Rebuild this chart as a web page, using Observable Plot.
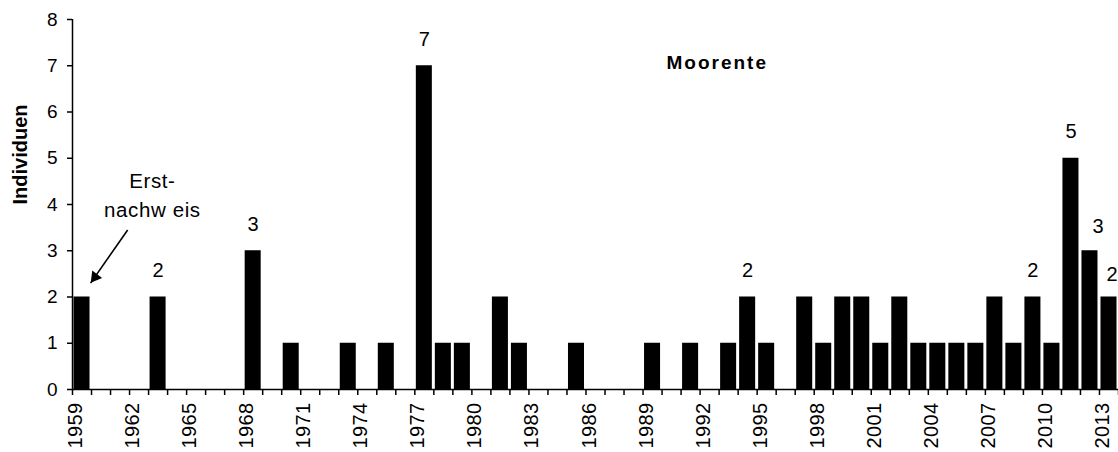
<!DOCTYPE html>
<html><head><meta charset="utf-8">
<script src="https://cdn.jsdelivr.net/npm/d3@7"></script>
<script src="https://cdn.jsdelivr.net/npm/@observablehq/plot@0.6"></script>
<style>
body{margin:0;background:#fff}
#chart svg{font-family:"Liberation Sans",Arial,sans-serif;color:#000;background:#fff}
g[aria-description="title"] text{letter-spacing:2px}
g[aria-description="note"] text{letter-spacing:0.6px}
g[aria-description="years"] text{letter-spacing:0.4px}
</style>
</head><body><div id="chart"></div>
<script>
const years = [1959,1960,1961,1962,1963,1964,1965,1966,1967,1968,1969,1970,1971,1972,1973,1974,1975,1976,1977,1978,1979,1980,1981,1982,1983,1984,1985,1986,1987,1988,1989,1990,1991,1992,1993,1994,1995,1996,1997,1998,1999,2000,2001,2002,2003,2004,2005,2006,2007,2008,2009,2010,2011,2012,2013];
const counts = [2,0,0,0,2,0,0,0,0,3,0,1,0,0,1,0,1,0,7,1,1,0,2,1,0,0,1,0,0,0,1,0,1,0,1,2,1,0,2,1,2,2,1,2,1,1,1,1,2,1,2,1,5,3,2];
const tickLabelYears = [1959,1962,1965,1968,1971,1974,1977,1980,1983,1986,1989,1992,1995,1998,2001,2004,2007,2010,2013];
const yTicks = [0,1,2,3,4,5,6,7,8];
const labeledYears = [1963,1968,1977,1994,2009,2011,2012,2013];
const title = "Moorente";
const yLabel = "Individuen";
const note = "Erst-\nnachw eis";

const data = years.map((year, i) => ({year, count: counts[i]}));
const labels = data.filter(d => labeledYears.includes(d.year));
const boundaries = years.concat([years[years.length - 1] + 1]);
const arrowSeg = [{x1: 1961.9, y1: 3.45, x2: 1959.95, y2: 2.3}];

const plot = Plot.plot({
  width: 1118,
  height: 452,
  marginLeft: 72,
  marginRight: 0,
  marginTop: 19,
  marginBottom: 63,
  style: {fontFamily: '"Liberation Sans", Arial, sans-serif', color: "#000", background: "#fff"},
  x: {type: "linear", domain: [years[0], years[years.length - 1] + 1]},
  y: {domain: [0, 8]},
  marks: [
    Plot.rectY(data, {x1: "year", x2: d => d.year + 1, y: "count", fill: "#000", insetLeft: 1.5, insetRight: 1.5}),
    Plot.axisX(boundaries, {tickSize: 6, tickFormat: () => "", strokeWidth: 1.5}),
    Plot.text(tickLabelYears, {x: d => d + 0.5, frameAnchor: "bottom", rotate: -90, textAnchor: "end", dy: 13, fontSize: 20, text: d => String(d), ariaDescription: "years"}),
    Plot.axisY(yTicks, {tickSize: 5, tickPadding: 10, fontSize: 19, label: null, strokeWidth: 1.5}),
    Plot.ruleX([years[0]], {y1: 0, y2: 8, strokeWidth: 1.5}),
    Plot.ruleY([0], {strokeWidth: 1.5}),
    Plot.text(labels.filter(d => d.year < 2012), {x: d => d.year + 0.5, y: "count", text: d => String(d.count), lineAnchor: "bottom", dy: -20, fontSize: 20}),
    Plot.text(labels.filter(d => d.year === 2012), {x: d => d.year + 0.5, y: "count", text: d => String(d.count), lineAnchor: "bottom", dy: -18, dx: 8, fontSize: 20}),
    Plot.text(labels.filter(d => d.year === 2013), {x: d => d.year + 0.5, y: "count", text: d => String(d.count), lineAnchor: "bottom", dy: -16, dx: 3, fontSize: 20}),
    Plot.text([title], {x: 1992.9, y: 6.94, text: d => d, lineAnchor: "bottom", fontSize: 19, fontWeight: "bold", ariaDescription: "title"}),
    Plot.text([yLabel], {frameAnchor: "left", dx: -52, rotate: -90, text: d => d, fontSize: 20, fontWeight: "bold"}),
    Plot.text([note], {x: 1963.2, y: 4.25, text: d => d, fontSize: 20.5, lineHeight: 1.45, ariaDescription: "note"}),
    Plot.link(arrowSeg, {x1: "x1", y1: "y1", x2: "x2", y2: "y2", stroke: "#000", strokeWidth: 1.6}),
    Plot.dot(arrowSeg, {x: "x2", y: "y2", symbol: "triangle", r: 4.6, fill: "#000", stroke: "none", rotate: 217, dx: 4.5, dy: -6})
  ]
});
document.getElementById("chart").appendChild(plot);
</script>
</body></html>
